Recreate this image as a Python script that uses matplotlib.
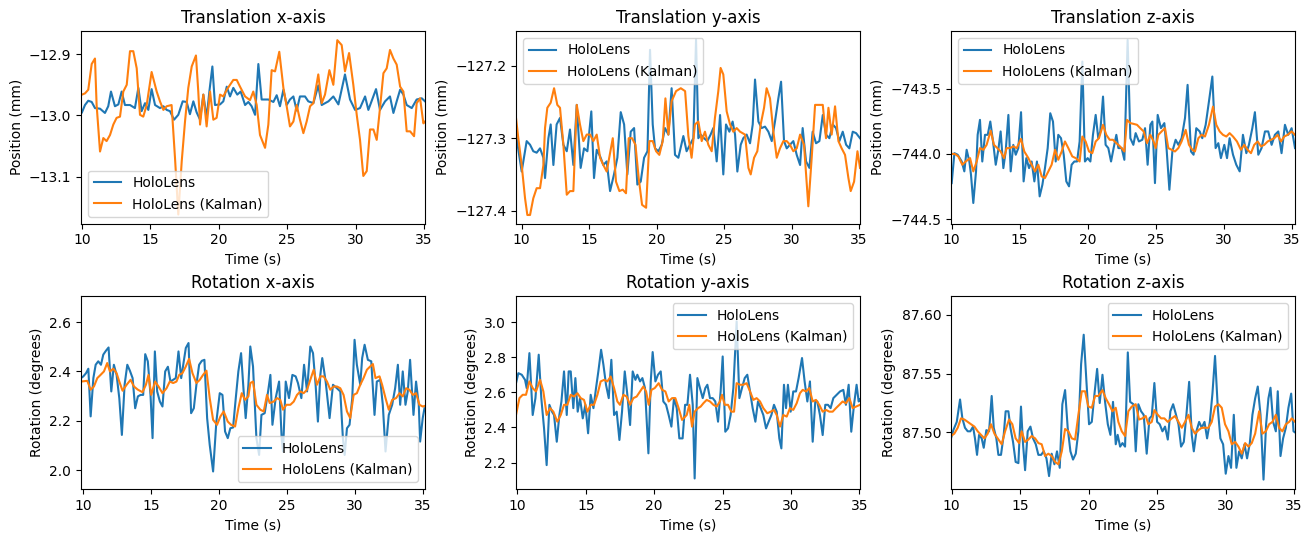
import matplotlib
matplotlib.use("Agg")
import matplotlib.pyplot as plt
from matplotlib.ticker import MultipleLocator

# (time s, value) pairs

tx_holo = [(10.0,-12.995),(10.22,-12.983),(10.46,-12.976),(10.71,-12.978),(10.95,-12.988),(11.32,-12.989),(11.68,-12.996),(11.92,-12.985),(12.12,-12.961),(12.41,-12.985),(12.66,-12.982),(12.9,-12.961),(13.14,-12.983),(13.51,-12.983),(13.87,-12.988),(14.12,-12.955),(14.36,-12.993),(14.61,-12.98),(14.85,-12.991),(15.09,-12.957),(15.34,-12.983),(15.7,-12.988),(15.95,-12.985),(16.19,-12.991),(16.43,-12.993),(16.73,-13.007),(17.04,-12.999),(17.36,-12.977),(17.65,-12.978),(17.89,-12.998),(18.14,-12.977),(18.38,-12.995),(18.63,-13.007),(18.87,-12.966),(19.11,-13.004),(19.31,-12.961),(19.53,-12.92),(19.72,-12.983),(20.09,-12.982),(20.33,-12.977),(20.58,-12.953),(20.82,-12.969),(21.06,-12.955),(21.35,-12.966),(21.6,-12.961),(21.92,-12.983),(22.16,-12.978),(22.4,-12.985),(22.65,-12.999),(22.89,-12.916),(23.13,-12.974),(23.62,-12.974),(23.99,-12.978),(24.23,-12.967),(24.47,-12.985),(24.72,-12.958),(24.96,-12.983),(25.2,-12.974),(25.45,-12.969),(25.69,-12.992),(25.93,-12.969),(26.3,-12.969),(26.54,-12.977),(26.91,-12.98),(27.27,-12.951),(27.52,-12.983),(28.01,-12.977),(28.37,-12.969),(28.74,-12.982),(29.22,-12.933),(29.59,-12.974),(29.96,-12.991),(30.32,-12.988),(30.69,-12.969),(30.93,-12.991),(31.49,-12.957),(31.78,-12.991),(32.15,-12.977),(32.51,-12.969),(32.76,-12.996),(33.0,-12.977),(33.25,-12.958),(33.49,-12.966),(33.73,-12.983),(34.1,-12.988),(34.46,-12.974),(34.83,-12.972),(35.07,-12.977)]

tx_kalman = [(10.0,-12.966),(10.22,-12.964),(10.46,-12.958),(10.71,-12.916),(10.95,-12.907),(11.07,-12.983),(11.32,-13.059),(11.56,-13.037),(11.8,-13.042),(12.05,-13.032),(12.29,-13.015),(12.53,-13.004),(12.78,-13.002),(13.02,-12.961),(13.27,-12.95),(13.51,-12.895),(13.75,-12.895),(14.0,-12.923),(14.24,-12.999),(14.48,-13.002),(14.73,-12.983),(15.09,-12.929),(15.46,-12.961),(15.7,-12.977),(15.95,-12.991),(16.19,-12.985),(16.55,-12.983),(16.8,-13.07),(17.04,-13.162),(17.29,-13.075),(17.53,-13.01),(17.77,-12.955),(18.02,-12.92),(18.33,-12.902),(18.5,-12.961),(18.63,-13.015),(18.87,-12.966),(19.11,-13.018),(19.36,-12.961),(19.6,-13.007),(19.84,-13.004),(20.09,-12.966),(20.33,-12.969),(20.58,-12.958),(20.82,-12.95),(21.06,-12.942),(21.31,-12.942),(21.55,-12.953),(21.92,-12.969),(22.28,-12.975),(22.52,-12.961),(22.77,-12.983),(23.01,-13.032),(23.38,-13.053),(23.62,-13.015),(23.86,-12.926),(24.11,-12.928),(24.42,-12.896),(24.72,-12.955),(24.96,-12.985),(25.2,-13.018),(25.45,-13.01),(25.69,-12.983),(25.93,-13.007),(26.18,-13.029),(26.42,-13.01),(26.67,-12.985),(26.91,-12.98),(27.27,-12.933),(27.52,-12.98),(27.76,-12.966),(28.08,-12.926),(28.37,-12.95),(28.66,-12.877),(28.98,-12.885),(29.22,-12.928),(29.52,-12.898),(29.83,-12.95),(30.08,-12.999),(30.32,-13.04),(30.56,-13.099),(30.81,-13.091),(31.05,-13.023),(31.3,-13.023),(31.54,-13.04),(31.78,-12.988),(32.03,-12.931),(32.27,-12.923),(32.51,-12.893),(32.76,-12.907),(33.0,-12.917),(33.25,-12.953),(33.49,-12.961),(33.73,-13.026),(33.98,-13.026),(34.27,-13.034),(34.46,-12.98),(34.71,-12.972),(34.95,-13.013),(35.07,-13.01)]

ty_holo = [(9.58,-127.295),(10.0,-127.346),(10.37,-127.304),(10.62,-127.309),(10.86,-127.318),(11.11,-127.32),(11.36,-127.314),(11.61,-127.327),(11.73,-127.355),(11.98,-127.30),(12.15,-127.281),(12.35,-127.337),(12.59,-127.281),(12.84,-127.272),(13.09,-127.309),(13.34,-127.318),(13.58,-127.288),(13.83,-127.337),(14.08,-127.254),(14.37,-127.341),(14.62,-127.314),(14.87,-127.318),(15.16,-127.263),(15.36,-127.355),(15.56,-127.316),(15.81,-127.325),(16.05,-127.337),(16.3,-127.332),(16.55,-127.373),(16.84,-127.35),(17.09,-127.327),(17.34,-127.264),(17.59,-127.281),(17.83,-127.35),(18.08,-127.291),(18.33,-127.286),(18.57,-127.364),(18.82,-127.36),(19.07,-127.327),(19.32,-127.318),(19.51,-127.178),(19.71,-127.281),(19.88,-127.314),(20.13,-127.318),(20.38,-127.309),(20.62,-127.286),(20.87,-127.295),(21.11,-127.231),(21.36,-127.323),(21.61,-127.327),(21.98,-127.297),(22.22,-127.318),(22.47,-127.309),(22.72,-127.30),(22.92,-127.164),(23.09,-127.30),(23.26,-127.295),(23.51,-127.30),(23.76,-127.304),(24.0,-127.295),(24.2,-127.286),(24.45,-127.332),(24.7,-127.268),(24.94,-127.35),(25.14,-127.281),(25.39,-127.291),(25.63,-127.277),(25.81,-127.295),(25.98,-127.346),(26.23,-127.309),(26.42,-127.30),(26.67,-127.295),(26.92,-127.307),(27.12,-127.281),(27.29,-127.219),(27.54,-127.277),(27.78,-127.286),(28.03,-127.284),(28.28,-127.291),(28.53,-127.304),(28.77,-127.277),(29.02,-127.245),(29.22,-127.222),(29.44,-127.304),(29.64,-127.314),(29.88,-127.309),(30.13,-127.304),(30.38,-127.323),(30.63,-127.337),(30.82,-127.286),(31.07,-127.332),(31.32,-127.341),(31.56,-127.291),(31.81,-127.307),(32.06,-127.304),(32.31,-127.268),(32.55,-127.295),(32.8,-127.30),(33.05,-127.281),(33.29,-127.286),(33.54,-127.304),(33.79,-127.291),(34.04,-127.309),(34.28,-127.314),(34.53,-127.291),(34.78,-127.293),(35.07,-127.30)]

ty_kalman = [(9.58,-127.272),(9.75,-127.30),(10.0,-127.337),(10.25,-127.383),(10.42,-127.406),(10.62,-127.406),(10.86,-127.383),(11.11,-127.369),(11.36,-127.369),(11.61,-127.337),(11.73,-127.286),(11.9,-127.258),(12.15,-127.251),(12.4,-127.231),(12.64,-127.254),(12.84,-127.258),(13.09,-127.309),(13.34,-127.378),(13.58,-127.373),(13.83,-127.373),(14.08,-127.254),(14.32,-127.281),(14.57,-127.304),(14.82,-127.295),(15.07,-127.295),(15.31,-127.304),(15.56,-127.295),(15.81,-127.327),(16.05,-127.337),(16.3,-127.346),(16.75,-127.30),(16.99,-127.36),(17.24,-127.373),(17.49,-127.371),(17.73,-127.376),(17.93,-127.30),(18.18,-127.30),(18.43,-127.309),(18.67,-127.355),(18.92,-127.392),(19.22,-127.396),(19.46,-127.304),(19.71,-127.304),(19.96,-127.318),(20.2,-127.323),(20.45,-127.304),(20.65,-127.245),(20.87,-127.295),(21.11,-127.249),(21.44,-127.235),(21.79,-127.231),(22.11,-127.235),(22.35,-127.297),(22.59,-127.327),(22.84,-127.281),(23.09,-127.277),(23.34,-127.304),(23.58,-127.291),(23.83,-127.309),(24.08,-127.318),(24.32,-127.272),(24.57,-127.235),(24.74,-127.203),(24.94,-127.212),(25.19,-127.263),(25.44,-127.281),(25.68,-127.291),(25.93,-127.286),(26.18,-127.291),(26.55,-127.295),(26.8,-127.341),(26.97,-127.35),(27.22,-127.327),(27.46,-127.318),(27.71,-127.281),(27.96,-127.258),(28.15,-127.231),(28.4,-127.245),(28.65,-127.291),(28.9,-127.327),(29.14,-127.314),(29.39,-127.304),(29.64,-127.304),(29.88,-127.309),(30.13,-127.318),(30.38,-127.314),(30.63,-127.295),(30.92,-127.309),(31.24,-127.394),(31.49,-127.327),(31.74,-127.254),(31.98,-127.254),(32.31,-127.254),(32.55,-127.30),(32.73,-127.258),(32.97,-127.295),(33.22,-127.256),(33.47,-127.304),(33.71,-127.314),(33.96,-127.323),(34.21,-127.355),(34.38,-127.373),(34.63,-127.36),(34.88,-127.318),(35.07,-127.341)]

tz_holo = [(10.0,-744.224),(10.2,-743.994),(10.44,-744.006),(10.74,-744.058),(10.93,-744.134),(11.1,-743.968),(11.3,-744.058),(11.42,-744.16),(11.59,-744.377),(11.79,-744.134),(11.91,-743.853),(12.08,-743.738),(12.25,-744.058),(12.45,-743.853),(12.65,-743.853),(12.84,-743.751),(13.04,-743.904),(13.24,-744.083),(13.43,-743.968),(13.6,-743.827),(13.8,-744.109),(13.97,-743.981),(14.17,-743.70),(14.34,-744.134),(14.53,-743.93),(14.71,-744.006),(14.9,-743.955),(15.1,-743.679),(15.29,-744.211),(15.49,-744.032),(15.69,-744.109),(15.88,-744.058),(16.08,-744.211),(16.27,-744.058),(16.47,-744.326),(16.67,-744.237),(16.86,-744.109),(17.06,-743.955),(17.25,-743.687),(17.45,-743.751),(17.65,-744.058),(17.84,-743.853),(18.04,-743.879),(18.24,-744.006),(18.43,-744.211),(18.63,-744.249),(18.82,-744.083),(19.02,-744.058),(19.22,-744.058),(19.41,-743.904),(19.61,-743.29),(19.8,-744.058),(20.0,-744.032),(20.2,-744.058),(20.39,-743.853),(20.59,-743.70),(20.78,-743.879),(20.93,-743.827),(21.13,-743.559),(21.32,-743.93),(21.52,-743.955),(21.72,-744.058),(21.91,-743.955),(22.11,-743.853),(22.26,-743.955),(22.5,-743.955),(22.7,-744.045),(22.94,-743.124),(23.14,-743.879),(23.36,-743.93),(23.53,-743.84),(23.77,-743.904),(24.02,-743.891),(24.22,-743.802),(24.41,-744.083),(24.61,-743.776),(24.76,-743.751),(24.95,-744.224),(25.15,-743.70),(25.39,-743.802),(25.64,-743.763),(25.81,-743.968),(26.01,-744.275),(26.23,-743.981),(26.47,-743.891),(26.67,-743.93),(26.91,-743.879),(27.16,-743.724),(27.35,-743.469),(27.6,-743.981),(27.79,-744.006),(27.99,-743.802),(28.24,-743.827),(28.43,-743.879),(28.68,-743.776),(28.92,-743.597),(29.17,-743.405),(29.41,-743.955),(29.61,-743.917),(29.8,-744.032),(30.05,-743.93),(30.25,-744.032),(30.44,-743.879),(30.69,-744.006),(30.93,-744.083),(31.18,-744.134),(31.42,-743.853),(31.67,-743.994),(31.86,-743.93),(32.11,-743.802),(32.3,-743.679),(32.55,-744.006),(32.79,-743.955),(33.04,-743.827),(33.28,-743.827),(33.53,-743.93),(33.77,-743.853),(34.02,-743.827),(34.26,-743.994),(34.51,-743.776),(34.75,-743.853),(35.0,-743.802),(35.25,-743.955)]

tz_kalman = [(10.0,-743.999),(10.25,-744.001),(10.49,-744.019),(10.78,-744.083),(11.03,-744.058),(11.35,-744.032),(11.59,-744.134),(11.84,-744.058),(12.08,-743.955),(12.33,-743.968),(12.57,-743.93),(12.87,-743.822),(13.11,-743.93),(13.36,-743.955),(13.6,-743.981),(13.85,-744.032),(14.04,-743.955),(14.29,-743.955),(14.53,-743.942),(14.78,-743.955),(15.1,-743.884),(15.34,-743.981),(15.64,-744.032),(15.88,-744.083),(16.13,-744.134),(16.37,-744.083),(16.62,-744.173),(16.86,-744.185),(17.11,-744.134),(17.35,-744.083),(17.6,-743.968),(17.84,-744.045),(18.09,-743.981),(18.33,-743.904),(18.58,-743.955),(18.87,-744.019),(19.12,-744.032),(19.41,-744.058),(19.61,-743.866),(19.85,-743.904),(20.1,-743.981),(20.34,-743.994),(20.59,-743.904),(20.83,-743.879),(21.13,-743.776),(21.37,-743.853),(21.62,-743.891),(21.86,-743.891),(22.11,-743.917),(22.26,-743.93),(22.5,-743.955),(22.7,-743.981),(22.89,-743.738),(23.14,-743.763),(23.38,-743.769),(23.63,-743.776),(23.87,-743.802),(24.12,-743.827),(24.36,-743.917),(24.61,-743.853),(24.85,-743.904),(25.0,-743.955),(25.2,-743.853),(25.44,-743.827),(25.69,-743.802),(25.93,-743.955),(26.18,-743.968),(26.42,-743.981),(26.67,-743.955),(26.91,-743.904),(27.21,-743.815),(27.45,-743.93),(27.7,-743.968),(27.89,-743.981),(28.14,-743.879),(28.38,-743.853),(28.63,-743.866),(28.92,-743.776),(29.22,-743.636),(29.46,-743.776),(29.71,-743.827),(29.95,-743.853),(30.2,-743.866),(30.44,-743.84),(30.69,-743.866),(30.98,-743.904),(31.27,-743.968),(31.52,-743.93),(31.76,-743.968),(32.01,-743.994),(32.25,-743.93),(32.5,-743.904),(32.75,-743.942),(32.99,-743.93),(33.24,-743.904),(33.48,-743.891),(33.73,-743.879),(33.97,-743.853),(34.22,-743.904),(34.46,-743.866),(34.71,-743.853),(35.0,-743.827),(35.25,-743.853)]

rx_holo = [(9.83,2.373),(10.0,2.38),(10.2,2.393),(10.37,2.411),(10.54,2.218),(10.74,2.373),(10.91,2.427),(11.1,2.441),(11.3,2.427),(11.47,2.468),(11.67,2.484),(11.86,2.497),(12.06,2.319),(12.25,2.427),(12.45,2.386),(12.65,2.292),(12.84,2.143),(13.04,2.346),(13.24,2.427),(13.43,2.403),(13.63,2.373),(13.82,2.251),(14.02,2.299),(14.22,2.305),(14.41,2.305),(14.56,2.47),(14.75,2.441),(14.95,2.305),(15.1,2.13),(15.27,2.481),(15.44,2.319),(15.64,2.278),(15.83,2.258),(16.03,2.4),(16.23,2.419),(16.42,2.359),(16.62,2.366),(16.81,2.373),(17.01,2.481),(17.21,2.373),(17.4,2.441),(17.55,2.495),(17.75,2.515),(17.94,2.231),(18.14,2.251),(18.33,2.346),(18.53,2.427),(18.73,2.443),(18.92,2.447),(19.12,2.211),(19.31,2.103),(19.56,1.995),(19.8,2.197),(20.05,2.312),(20.25,2.305),(20.44,2.157),(20.64,2.13),(20.83,2.17),(21.03,2.173),(21.23,2.292),(21.42,2.4),(21.62,2.474),(21.81,2.319),(21.96,2.211),(22.16,2.346),(22.3,2.501),(22.5,2.42),(22.75,2.13),(22.95,2.062),(23.12,2.224),(23.36,2.231),(23.61,2.319),(23.78,2.386),(23.93,2.184),(24.17,2.292),(24.42,2.359),(24.61,2.13),(24.71,2.076),(24.91,2.359),(25.15,2.292),(25.4,2.386),(25.64,2.38),(25.81,2.353),(26.06,2.292),(26.26,2.427),(26.48,2.319),(26.72,2.501),(26.92,2.474),(27.11,2.346),(27.28,2.197),(27.46,2.386),(27.6,2.454),(27.85,2.359),(28.14,2.211),(28.39,2.346),(28.68,2.332),(28.93,2.319),(29.12,2.13),(29.25,2.062),(29.42,2.17),(29.61,2.184),(29.81,2.292),(29.98,2.528),(30.15,2.427),(30.4,2.346),(30.54,2.454),(30.72,2.508),(30.96,2.447),(31.21,2.441),(31.45,2.224),(31.62,2.359),(31.87,2.366),(32.06,2.265),(32.26,2.076),(32.5,2.224),(32.75,2.265),(32.97,2.332),(33.17,2.427),(33.34,2.265),(33.53,2.4),(33.73,2.265),(33.9,2.319),(34.07,2.447),(34.32,2.224),(34.51,2.359),(34.71,2.265),(34.81,2.116),(35.0,2.211),(35.13,2.251)]

rx_kalman = [(9.83,2.359),(10.29,2.362),(10.54,2.326),(10.78,2.339),(11.03,2.373),(11.27,2.386),(11.52,2.4),(11.76,2.434),(11.96,2.4),(12.21,2.411),(12.45,2.393),(12.65,2.359),(12.89,2.322),(13.19,2.346),(13.48,2.366),(13.73,2.339),(14.02,2.326),(14.36,2.316),(14.61,2.346),(14.8,2.386),(15.0,2.305),(15.29,2.359),(15.54,2.339),(15.83,2.312),(16.13,2.332),(16.37,2.359),(16.62,2.353),(16.86,2.359),(17.06,2.386),(17.3,2.393),(17.55,2.42),(17.79,2.451),(18.04,2.393),(18.33,2.353),(18.58,2.366),(18.82,2.386),(19.07,2.403),(19.31,2.292),(19.56,2.204),(19.85,2.184),(20.1,2.218),(20.34,2.238),(20.64,2.197),(20.88,2.184),(21.18,2.177),(21.42,2.251),(21.67,2.312),(21.91,2.285),(22.16,2.299),(22.3,2.353),(22.5,2.359),(22.75,2.265),(23.04,2.245),(23.29,2.238),(23.53,2.305),(23.73,2.272),(24.02,2.278),(24.27,2.292),(24.51,2.285),(24.71,2.245),(24.96,2.265),(25.25,2.265),(25.5,2.278),(25.74,2.305),(25.99,2.319),(26.23,2.312),(26.48,2.326),(26.72,2.366),(26.97,2.407),(27.21,2.346),(27.46,2.38),(27.7,2.38),(27.95,2.359),(28.19,2.326),(28.44,2.339),(28.68,2.339),(28.93,2.332),(29.17,2.305),(29.42,2.238),(29.66,2.211),(29.91,2.305),(30.15,2.312),(30.4,2.346),(30.64,2.373),(30.89,2.407),(31.13,2.42),(31.33,2.43),(31.52,2.373),(31.82,2.38),(32.01,2.346),(32.26,2.292),(32.5,2.245),(32.75,2.285),(33.04,2.292),(33.29,2.312),(33.53,2.299),(33.78,2.332),(34.02,2.326),(34.27,2.305),(34.51,2.312),(34.76,2.265),(35.0,2.258),(35.13,2.26)]

ry_holo = [(9.9,2.652),(10.07,2.709),(10.32,2.7),(10.56,2.671),(10.68,2.624),(10.88,2.823),(11.12,2.471),(11.32,2.567),(11.56,2.814),(11.75,2.567),(11.95,2.395),(12.14,2.186),(12.34,2.529),(12.53,2.49),(12.68,2.471),(12.88,2.319),(13.07,2.471),(13.22,2.548),(13.41,2.719),(13.61,2.471),(13.75,2.719),(13.9,2.719),(14.09,2.51),(14.24,2.681),(14.41,2.49),(14.58,2.567),(14.78,2.452),(14.97,2.529),(15.17,2.367),(15.36,2.586),(15.56,2.51),(15.75,2.624),(15.92,2.719),(16.12,2.842),(16.29,2.757),(16.48,2.643),(16.68,2.567),(16.87,2.785),(17.07,2.471),(17.26,2.49),(17.46,2.329),(17.65,2.49),(17.85,2.719),(18.04,2.586),(18.24,2.414),(18.43,2.719),(18.63,2.671),(18.77,2.7),(18.97,2.662),(19.14,2.681),(19.33,2.624),(19.58,2.253),(19.75,2.662),(19.89,2.829),(20.09,2.662),(20.28,2.7),(20.48,2.719),(20.67,2.548),(20.87,2.529),(21.06,2.471),(21.26,2.405),(21.45,2.567),(21.65,2.51),(21.84,2.338),(22.08,2.338),(22.26,2.529),(22.43,2.529),(22.62,2.7),(22.82,2.529),(22.96,2.11),(23.16,2.681),(23.35,2.624),(23.55,2.567),(23.74,2.624),(23.89,2.643),(24.08,2.567),(24.28,2.567),(24.47,2.548),(24.67,2.433),(24.86,2.605),(25.01,2.804),(25.2,2.376),(25.4,2.395),(25.59,2.471),(25.79,2.624),(25.93,2.852),(26.03,3.004),(26.23,2.567),(26.42,2.624),(26.62,2.681),(26.81,2.7),(27.01,2.605),(27.2,2.51),(27.4,2.433),(27.59,2.548),(27.79,2.51),(27.98,2.471),(28.18,2.395),(28.37,2.433),(28.57,2.471),(28.76,2.529),(28.96,2.49),(29.15,2.338),(29.3,2.281),(29.49,2.643),(29.64,2.51),(29.78,2.643),(29.98,2.49),(30.17,2.605),(30.37,2.605),(30.56,2.681),(30.81,2.795),(31.0,2.662),(31.2,2.548),(31.39,2.662),(31.59,2.319),(31.78,2.548),(31.93,2.548),(32.12,2.471),(32.32,2.357),(32.51,2.529),(32.71,2.529),(32.9,2.51),(33.1,2.567),(33.34,2.586),(33.59,2.605),(33.83,2.614),(34.02,2.529),(34.22,2.643),(34.41,2.376),(34.61,2.529),(34.8,2.643),(34.95,2.548),(35.05,2.56)]

ry_kalman = [(9.9,2.471),(10.15,2.567),(10.39,2.586),(10.63,2.586),(10.88,2.662),(11.12,2.624),(11.36,2.605),(11.66,2.671),(11.9,2.605),(12.14,2.471),(12.39,2.51),(12.63,2.49),(12.92,2.433),(13.17,2.471),(13.41,2.529),(13.65,2.529),(13.9,2.586),(14.14,2.576),(14.39,2.595),(14.63,2.567),(14.87,2.557),(15.12,2.49),(15.36,2.529),(15.6,2.529),(15.85,2.586),(16.09,2.662),(16.34,2.671),(16.58,2.662),(16.82,2.69),(17.07,2.624),(17.31,2.548),(17.5,2.529),(17.75,2.586),(17.99,2.576),(18.24,2.529),(18.48,2.567),(18.72,2.576),(18.97,2.605),(19.21,2.633),(19.41,2.605),(19.6,2.529),(19.8,2.614),(20.04,2.624),(20.33,2.652),(20.58,2.614),(20.82,2.605),(21.06,2.548),(21.31,2.567),(21.55,2.567),(21.79,2.51),(22.04,2.443),(22.38,2.471),(22.57,2.529),(22.77,2.405),(22.96,2.49),(23.21,2.51),(23.4,2.519),(23.6,2.538),(23.84,2.557),(24.08,2.548),(24.33,2.529),(24.57,2.519),(24.81,2.548),(24.96,2.586),(25.16,2.529),(25.4,2.529),(25.64,2.49),(25.84,2.49),(26.03,2.652),(26.28,2.643),(26.52,2.643),(26.76,2.652),(27.01,2.605),(27.25,2.557),(27.49,2.567),(27.74,2.548),(27.98,2.51),(28.27,2.481),(28.52,2.49),(28.76,2.5),(28.96,2.471),(29.2,2.405),(29.44,2.471),(29.69,2.462),(29.93,2.51),(30.17,2.5),(30.42,2.538),(30.66,2.595),(30.86,2.614),(31.1,2.605),(31.34,2.624),(31.59,2.548),(31.83,2.557),(32.07,2.529),(32.32,2.49),(32.56,2.5),(32.81,2.49),(33.05,2.49),(33.29,2.51),(33.54,2.529),(33.78,2.548),(34.02,2.538),(34.27,2.567),(34.51,2.51),(34.76,2.519),(35.05,2.529)]

rz_holo = [(9.95,87.495),(10.12,87.502),(10.37,87.509),(10.61,87.528),(10.78,87.512),(10.97,87.504),(11.17,87.501),(11.36,87.501),(11.56,87.505),(11.7,87.495),(11.85,87.481),(12.0,87.498),(12.19,87.495),(12.34,87.487),(12.53,87.502),(12.73,87.501),(12.92,87.531),(13.07,87.504),(13.26,87.495),(13.41,87.481),(13.6,87.481),(13.8,87.498),(13.94,87.518),(14.14,87.518),(14.29,87.504),(14.48,87.492),(14.67,87.475),(14.87,87.474),(15.06,87.522),(15.21,87.49),(15.36,87.468),(15.55,87.501),(15.75,87.505),(15.94,87.495),(16.14,87.49),(16.33,87.481),(16.53,87.481),(16.72,87.484),(16.92,87.478),(17.11,87.463),(17.3,87.482),(17.5,87.473),(17.69,87.484),(17.89,87.47),(18.08,87.524),(18.28,87.536),(18.47,87.504),(18.67,87.484),(18.86,87.477),(19.06,87.482),(19.25,87.501),(19.45,87.558),(19.64,87.583),(19.84,87.543),(20.03,87.507),(20.23,87.509),(20.42,87.532),(20.62,87.554),(20.81,87.525),(21.01,87.549),(21.2,87.526),(21.4,87.507),(21.59,87.498),(21.78,87.526),(21.98,87.49),(22.12,87.498),(22.3,87.488),(22.47,87.491),(22.66,87.488),(22.86,87.568),(23.03,87.526),(23.27,87.524),(23.44,87.484),(23.63,87.524),(23.83,87.518),(24.02,87.515),(24.24,87.482),(24.44,87.512),(24.61,87.514),(24.8,87.542),(25.0,87.509),(25.19,87.507),(25.39,87.501),(25.58,87.505),(25.78,87.494),(25.97,87.518),(26.17,87.524),(26.36,87.516),(26.56,87.507),(26.75,87.488),(26.95,87.492),(27.14,87.515),(27.34,87.543),(27.53,87.498),(27.68,87.484),(27.87,87.501),(28.07,87.509),(28.26,87.504),(28.46,87.509),(28.65,87.495),(28.85,87.509),(29.04,87.533),(29.23,87.565),(29.43,87.521),(29.62,87.495),(29.82,87.49),(30.01,87.465),(30.21,87.48),(30.4,87.47),(30.6,87.515),(30.79,87.47),(30.99,87.484),(31.18,87.478),(31.38,87.49),(31.57,87.478),(31.77,87.491),(31.96,87.515),(32.16,87.529),(32.35,87.539),(32.55,87.515),(32.77,87.46),(32.96,87.507),(33.13,87.529),(33.28,87.538),(33.47,87.509),(33.67,87.501),(33.81,87.535),(34.01,87.48),(34.2,87.495),(34.4,87.504),(34.59,87.521),(34.79,87.533),(34.96,87.501),(35.08,87.50)]

rz_kalman = [(9.95,87.497),(10.19,87.499),(10.44,87.504),(10.68,87.512),(10.93,87.511),(11.17,87.509),(11.41,87.507),(11.66,87.505),(11.9,87.501),(12.14,87.498),(12.39,87.495),(12.63,87.499),(12.87,87.507),(13.12,87.499),(13.36,87.495),(13.65,87.49),(13.9,87.501),(14.19,87.511),(14.43,87.507),(14.67,87.495),(14.92,87.491),(15.11,87.501),(15.36,87.492),(15.6,87.494),(15.84,87.497),(16.09,87.495),(16.33,87.491),(16.57,87.49),(16.82,87.48),(17.06,87.482),(17.3,87.48),(17.55,87.475),(17.79,87.473),(18.04,87.484),(18.28,87.503),(18.52,87.501),(18.77,87.495),(19.01,87.494),(19.25,87.515),(19.5,87.535),(19.74,87.535),(19.98,87.522),(20.23,87.521),(20.47,87.531),(20.71,87.531),(21.01,87.536),(21.25,87.529),(21.49,87.524),(21.74,87.518),(21.98,87.521),(22.17,87.509),(22.42,87.501),(22.66,87.497),(22.9,87.518),(23.15,87.522),(23.44,87.524),(23.68,87.511),(23.93,87.512),(24.17,87.514),(24.36,87.507),(24.61,87.509),(24.8,87.519),(25.05,87.515),(25.29,87.512),(25.53,87.512),(25.78,87.509),(26.07,87.512),(26.31,87.514),(26.56,87.509),(26.8,87.504),(27.04,87.509),(27.29,87.515),(27.53,87.504),(27.77,87.499),(28.02,87.502),(28.26,87.504),(28.5,87.504),(28.75,87.504),(28.99,87.509),(29.23,87.522),(29.48,87.524),(29.72,87.521),(29.96,87.507),(30.21,87.501),(30.45,87.49),(30.7,87.492),(30.94,87.488),(31.18,87.482),(31.43,87.491),(31.67,87.488),(31.91,87.491),(32.16,87.499),(32.45,87.518),(32.69,87.499),(32.94,87.501),(33.18,87.507),(33.42,87.509),(33.67,87.515),(33.91,87.504),(34.15,87.501),(34.4,87.507),(34.64,87.509),(34.83,87.512),(35.08,87.509)]

titles = ["Translation x-axis", "Translation y-axis", "Translation z-axis",
          "Rotation x-axis", "Rotation y-axis", "Rotation z-axis"]


def draw(ax, raw, kal, title, ylabel, xlim, ylim, ystep, legend_loc):
    ax.plot(*zip(*raw), label="HoloLens")
    ax.plot(*zip(*kal), label="HoloLens (Kalman)")
    ax.set_title(title)
    ax.set_xlabel("Time (s)")
    ax.set_ylabel(ylabel)
    ax.set_xlim(*xlim)
    ax.set_ylim(*ylim)
    ax.yaxis.set_major_locator(MultipleLocator(ystep))
    ax.legend(loc=legend_loc)


fig, axs = plt.subplots(2, 3, figsize=(13.13, 5.4), dpi=100)
fig.subplots_adjust(left=0.0617, right=0.9863, bottom=0.0944, top=0.9426,
                    wspace=0.2645, hspace=0.377)

draw(axs[0, 0], tx_holo, tx_kalman, titles[0], "Position (mm)", (9.93, 35.07), (-13.177, -12.862), 0.1, "lower left")
draw(axs[0, 1], ty_holo, ty_kalman, titles[1], "Position (mm)", (9.58, 35.07), (-127.418, -127.152), 0.1, "upper left")
draw(axs[0, 2], tz_holo, tz_kalman, titles[2], "Position (mm)", (9.95, 35.25), (-744.536, -743.055), 0.5, "upper left")
draw(axs[1, 0], rx_holo, rx_kalman, titles[3], "Rotation (degrees)", (9.83, 35.17), (1.924, 2.704), 0.2, "lower right")
draw(axs[1, 1], ry_holo, ry_kalman, titles[4], "Rotation (degrees)", (9.9, 35.05), (2.05, 3.146), 0.2, "upper right")
draw(axs[1, 2], rz_holo, rz_kalman, titles[5], "Rotation (degrees)", (9.95, 35.07), (87.452, 87.6156), 0.05, "upper right")

fig.savefig("out.png", dpi=100)
